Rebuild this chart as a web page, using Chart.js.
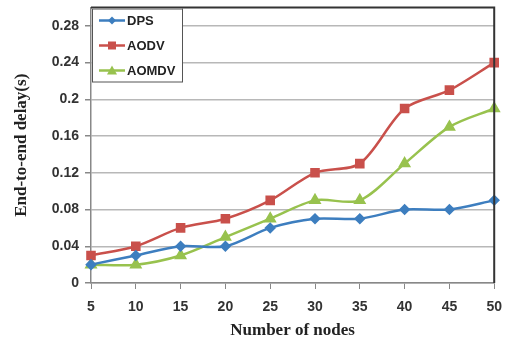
<!DOCTYPE html>
<html>
<head>
<meta charset="utf-8">
<script src="https://cdn.jsdelivr.net/npm/chart.js@4"></script>
<style>
  html, body { margin: 0; padding: 0; background: #fff; }
  #wrap { width: 512px; height: 345px; }
</style>
</head>
<body>
<div id="wrap"><canvas id="delayChart" width="512" height="345"></canvas></div>
<script>
// number of nodes on the x axis
const nodes = ["5", "10", "15", "20", "25", "30", "35", "40", "45", "50"];

// end-to-end delay in seconds
const dps   = [0.02, 0.03, 0.04, 0.04, 0.06, 0.07, 0.07, 0.08, 0.08, 0.09];
const aodv  = [0.03, 0.04, 0.06, 0.07, 0.09, 0.12, 0.13, 0.19, 0.21, 0.24];
const aomdv = [0.02, 0.02, 0.03, 0.05, 0.07, 0.09, 0.09, 0.13, 0.17, 0.19];

const yTicks = [0, 0.04, 0.08, 0.12, 0.16, 0.2, 0.24, 0.28];

const tickFont = { family: "Liberation Sans", size: 14, weight: "bold" };
const titleFont = { family: "Liberation Serif", size: 17, weight: "bold" };

// frame on top/right and the legend box inside the plot
const framePlugin = {
    id: "frame",
    afterDraw(chart) {
        const ctx = chart.ctx;
        const a = chart.chartArea;
        ctx.save();
        ctx.strokeStyle = "#333";
        ctx.lineWidth = 2;
        ctx.beginPath();
        ctx.moveTo(a.left, a.top);
        ctx.lineTo(a.right, a.top);
        ctx.lineTo(a.right, a.bottom);
        ctx.stroke();

        // legend
        const bx = a.left + 1, by = a.top + 1, bw = 90, bh = 73;
        ctx.fillStyle = "#fff";
        ctx.fillRect(bx, by, bw, bh);
        ctx.strokeStyle = "#555";
        ctx.lineWidth = 1;
        ctx.strokeRect(bx + 0.5, by + 0.5, bw, bh);
        ctx.font = "bold 13px 'Liberation Sans'";
        ctx.textBaseline = "middle";
        chart.data.datasets.forEach((ds, i) => {
            const y = by + 12 + i * 25;
            ctx.strokeStyle = ds.borderColor;
            ctx.lineWidth = 2.5;
            ctx.beginPath();
            ctx.moveTo(bx + 7, y);
            ctx.lineTo(bx + 33, y);
            ctx.stroke();
            ctx.fillStyle = ds.borderColor;
            const cx = bx + 20;
            ctx.beginPath();
            if (ds.pointStyle === "rect") {
                ctx.rect(cx - 4, y - 4, 8, 8);
            } else if (ds.pointStyle === "triangle") {
                ctx.moveTo(cx, y - 5); ctx.lineTo(cx + 5, y + 4); ctx.lineTo(cx - 5, y + 4); ctx.closePath();
            } else {
                ctx.moveTo(cx, y - 4); ctx.lineTo(cx + 4, y); ctx.lineTo(cx, y + 4); ctx.lineTo(cx - 4, y); ctx.closePath();
            }
            ctx.fill();
            ctx.fillStyle = "#222";
            ctx.fillText(ds.label, bx + 35, y + 1);
        });
        ctx.restore();
    }
};

new Chart(document.getElementById("delayChart"), {
    type: "line",
    data: {
        labels: nodes,
        datasets: [
            {
                label: "DPS",
                data: dps,
                borderColor: "#3d7ebf",
                backgroundColor: "#3d7ebf",
                pointStyle: "rectRot",
                pointRadius: 4,
                borderWidth: 2.5,
                tension: 0.3
            },
            {
                label: "AODV",
                data: aodv,
                borderColor: "#c9504b",
                backgroundColor: "#c9504b",
                pointStyle: "rect",
                pointRadius: 5,
                borderWidth: 2.5,
                tension: 0.3
            },
            {
                label: "AOMDV",
                data: aomdv,
                borderColor: "#98c24e",
                backgroundColor: "#98c24e",
                pointStyle: "triangle",
                pointRadius: 5,
                borderWidth: 2.5,
                tension: 0.3
            }
        ]
    },
    options: {
        responsive: false,
        animation: false,
        layout: { padding: { top: 7, right: 14, left: 7, bottom: 0 } },
        plugins: {
            legend: { display: false },
            tooltip: { enabled: false }
        },
        scales: {
            x: {
                offset: false,
                grid: { drawOnChartArea: false, tickLength: 6, color: "#888" },
                border: { color: "#888", width: 1.5 },
                ticks: { font: tickFont, color: "#333", padding: 10, maxRotation: 0 },
                title: { display: true, text: "Number of nodes", font: titleFont, color: "#222", padding: { top: 4, bottom: 4 } },
                afterFit(scale) { scale.height = 62; }
            },
            y: {
                min: 0,
                max: 0.3,
                afterBuildTicks(scale) {
                    scale.ticks = yTicks.map(v => ({ value: v }));
                },
                grid: { color: "#b8b8b8", lineWidth: 1.5, tickLength: 6, tickColor: "#888" },
                border: { color: "#888", width: 1.5 },
                ticks: {
                    font: tickFont,
                    color: "#333",
                    padding: 6,
                    callback: v => String(+v.toFixed(2))
                },
                title: { display: true, text: "End-to-end delay(s)", font: titleFont, color: "#222" },
                afterFit(scale) {
                    scale.width = 84;
                    scale.paddingTop = 0;
                    scale.paddingBottom = 0;
                }
            }
        }
    },
    plugins: [framePlugin]
});
</script>
</body>
</html>
